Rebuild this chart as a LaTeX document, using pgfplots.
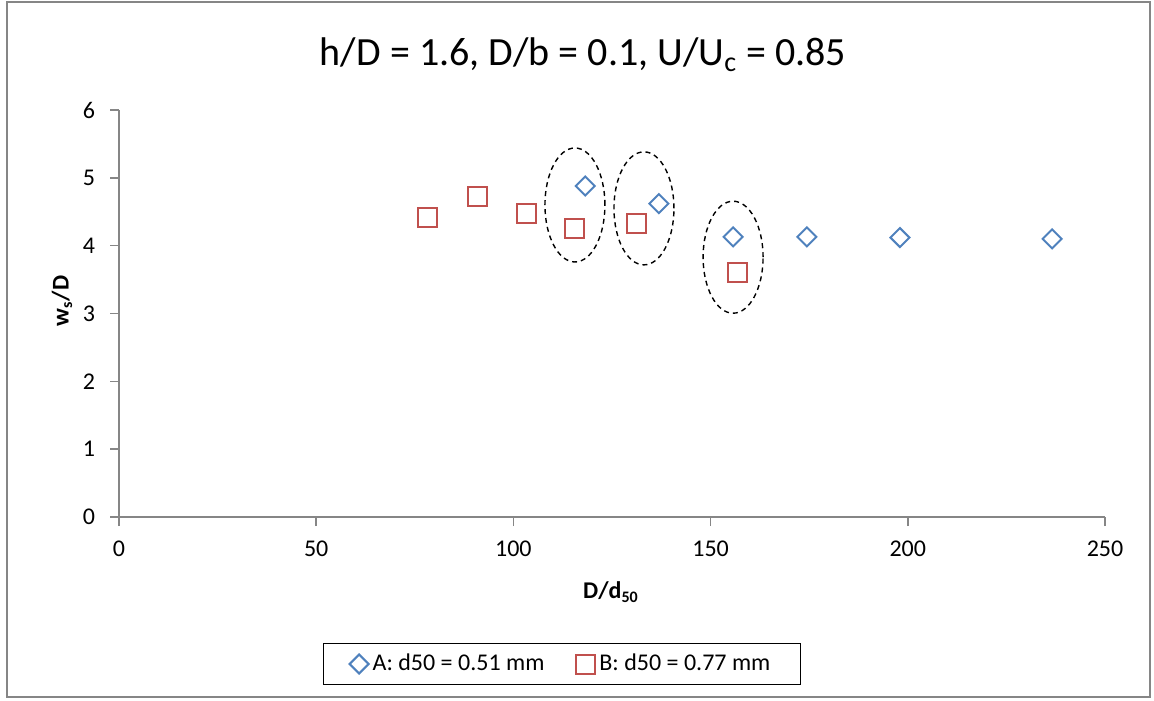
\documentclass[border=0pt]{standalone}
\usepackage{pgfplots}
\pgfplotsset{compat=1.18}
\usepackage{fontspec}
\setmainfont{Carlito}
\definecolor{serA}{HTML}{4F81BD}
\definecolor{serB}{HTML}{C0504D}
\definecolor{axgray}{HTML}{868686}
\begin{document}
\begin{tikzpicture}
\useasboundingbox (-59.5pt,-91.5pt) rectangle (517.5pt,258.5pt);
\draw[axgray, line width=0.8pt] (-56pt,-90pt) rectangle (515.5pt,257.5pt);
\begin{axis}[
  scale only axis, width=493pt, height=203.5pt,
  xmin=0, xmax=250, ymin=0, ymax=6,
  xtick={0,50,...,250}, ytick={0,1,...,6},
  axis x line=bottom, axis y line=left,
  axis line style={-, axgray, line width=0.75pt},
  tick style={axgray, line width=0.75pt},
  tick align=outside, major tick length=4.5pt,
  /pgf/number format/assume math mode=true,
  tick label style={font=\fontsize{12pt}{14pt}\selectfont, text=black},
  xticklabel style={yshift=-4pt},
  yticklabel style={xshift=-4pt},
  clip=false,
  legend style={at={(rel axis cs:0.4493,-0.3612)}, anchor=center,
    legend columns=2, draw=black, line width=0.6pt,
    inner xsep=13pt, inner ysep=3.5pt,
    font=\fontsize{12pt}{14pt}\selectfont,
    /tikz/every even column/.append style={column sep=14pt}},
  legend cell align=left,
]
\addplot[only marks, mark=square, mark size=3.36pt, mark options={rotate=45, draw=serA, line width=1pt}] coordinates {
(118.2,4.88) (136.9,4.62) (155.7,4.13) (174.4,4.13) (198.0,4.12) (236.6,4.10)
};
\addlegendentry{A: d50 = 0.51 mm}
\addplot[only marks, mark=square, mark size=4.75pt, mark options={draw=serB, line width=1pt}] coordinates {
(78.3,4.42) (90.8,4.72) (103.2,4.47) (115.6,4.26) (131.1,4.32) (156.7,3.60)
};
\addlegendentry{B: d50 = 0.77 mm}
\draw[black, line width=0.7pt, dash pattern=on 2.5pt off 2pt] (axis cs:115.6,4.60) ellipse [x radius=15pt, y radius=28.5pt];
\draw[black, line width=0.7pt, dash pattern=on 2.5pt off 2pt] (axis cs:133.1,4.55) ellipse [x radius=15pt, y radius=28.25pt];
\draw[black, line width=0.7pt, dash pattern=on 2.5pt off 2pt] (axis cs:155.7,3.83) ellipse [x radius=15pt, y radius=28pt];
\end{axis}
\node[font=\fontsize{20pt}{24pt}\selectfont] at (232pt,231pt) {h/D = 1.6, D/b = 0.1, U/U\textsubscript{c} = 0.85};
\node[font=\bfseries\fontsize{12pt}{14pt}\selectfont, rotate=90] at (-28.5pt,108pt) {w\textsubscript{s}/D};
\node[font=\bfseries\fontsize{12pt}{14pt}\selectfont] at (246pt,-37.5pt) {D/d\textsubscript{50}};
\end{tikzpicture}
\end{document}
